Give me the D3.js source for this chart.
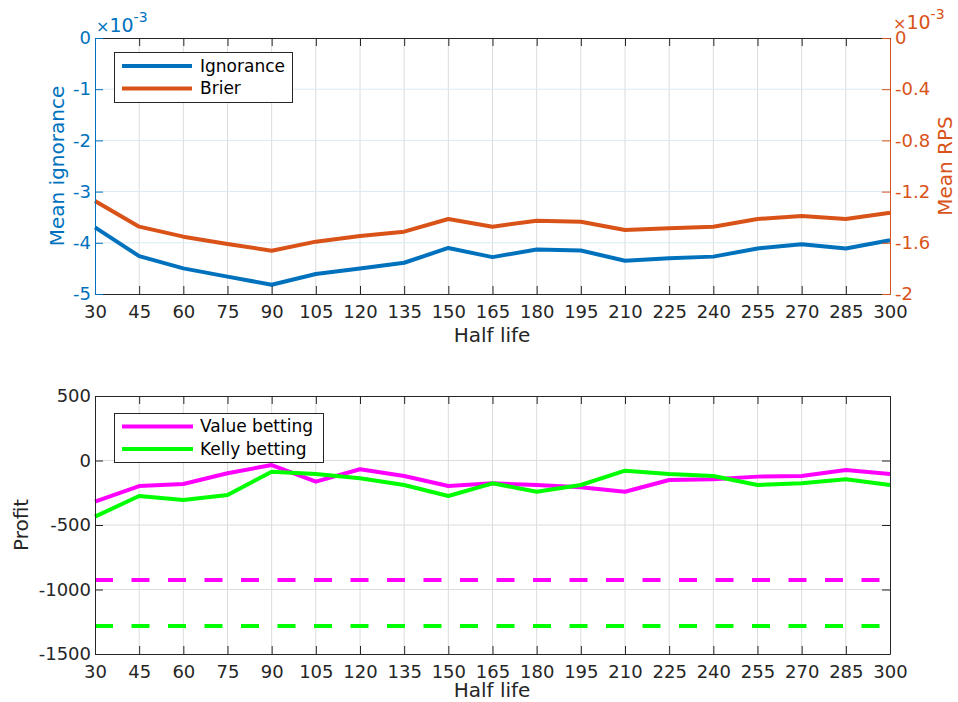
<!DOCTYPE html>
<html>
<head>
<meta charset="utf-8">
<script src="https://cdn.jsdelivr.net/npm/d3@7/dist/d3.min.js"></script>
<style>
  html, body { margin: 0; padding: 0; background: #fff; }
  svg { display: block; font-family: "DejaVu Sans", sans-serif; }
</style>
</head>
<body>
<svg id="chart" width="958" height="702"></svg>
<script>
// ---------------- DATA ----------------
const halfLife = [30, 45, 60, 75, 90, 105, 120, 135, 150, 165, 180, 195, 210, 225, 240, 255, 270, 285, 300];
const xTicks = halfLife;

// Mean ignorance (×10^-3)
const ignorance = [-3.70, -4.26, -4.50, -4.66, -4.82, -4.61, -4.50, -4.39, -4.10, -4.28, -4.13, -4.15, -4.35, -4.30, -4.27, -4.11, -4.03, -4.11, -3.95];
// Mean RPS / Brier (×10^-3)
const brier = [-1.273, -1.474, -1.552, -1.609, -1.662, -1.591, -1.547, -1.513, -1.414, -1.474, -1.427, -1.435, -1.500, -1.487, -1.474, -1.414, -1.391, -1.414, -1.365];

const leftTicks = [0, -1, -2, -3, -4, -5];
const rightTicks = [0, -0.4, -0.8, -1.2, -1.6, -2];

// Profit
const valueBetting = [-319, -198, -182, -99, -35, -164, -68, -120, -198, -177, -190, -208, -242, -151, -146, -125, -120, -74, -105];
const kellyBetting = [-435, -275, -306, -267, -87, -105, -138, -190, -275, -177, -242, -190, -79, -105, -120, -190, -177, -146, -190];
const valueBaseline = -926;
const kellyBaseline = -1283;
const profitTicks = [500, 0, -500, -1000, -1500];

const topLegend = ["Ignorance", "Brier"];
const bottomLegend = ["Value betting", "Kelly betting"];

// ---------------- STYLE ----------------
const C_BLUE = "#0072BD", C_ORANGE = "#D95319", C_MAG = "#FF00FF", C_GREEN = "#00FF00";
const C_AX = "#262626", C_GRID = "#dcdcdc", C_GRID_BLUE = "#d9eaf5";
const FS = 18, FL = 20, TICK = 8, LW = 4;
const fmt = d => String(+(+d).toFixed(1));

const svg = d3.select("#chart");

const x = d3.scaleLinear().domain([30, 300]).range([95, 890]);

// ---------- TOP PLOT ----------
const T = { top: 38, bottom: 294 };
const yL = d3.scaleLinear().domain([-5, 0]).range([T.bottom, T.top]);
const yR = d3.scaleLinear().domain([-2, 0]).range([T.bottom, T.top]);

const gTop = svg.append("g");
// grid
gTop.append("g").selectAll("line").data(xTicks.slice(1, -1)).join("line")
  .attr("x1", d => x(d)).attr("x2", d => x(d)).attr("y1", T.top).attr("y2", T.bottom)
  .attr("stroke", C_GRID).attr("stroke-width", 1);
gTop.append("g").selectAll("line").data(leftTicks.slice(1, -1)).join("line")
  .attr("x1", 95).attr("x2", 890).attr("y1", d => yL(d)).attr("y2", d => yL(d))
  .attr("stroke", C_GRID_BLUE).attr("stroke-width", 1);

// lines
const lineL = d3.line().x((d, i) => x(halfLife[i])).y(d => yL(d));
const lineR = d3.line().x((d, i) => x(halfLife[i])).y(d => yR(d));
gTop.append("path").attr("d", lineL(ignorance)).attr("fill", "none")
  .attr("stroke", C_BLUE).attr("stroke-width", LW).attr("stroke-linejoin", "round");
gTop.append("path").attr("d", lineR(brier)).attr("fill", "none")
  .attr("stroke", C_ORANGE).attr("stroke-width", LW).attr("stroke-linejoin", "round");

// axes
function styleAxis(g, color) {
  g.select(".domain").attr("stroke", color);
  g.selectAll(".tick line").attr("stroke", color);
  g.selectAll(".tick text").attr("fill", color).style("font-size", FS + "px")
    .style("font-family", "DejaVu Sans");
}
const axB1 = gTop.append("g").attr("transform", `translate(0,${T.bottom})`)
  .call(d3.axisBottom(x).tickValues(xTicks).tickSizeInner(-TICK).tickSizeOuter(0).tickPadding(8).tickFormat(fmt));
styleAxis(axB1, C_AX);
axB1.selectAll(".tick text").attr("dy", "0.9em");
const axT1 = gTop.append("g").attr("transform", `translate(0,${T.top})`)
  .call(d3.axisTop(x).tickValues(xTicks).tickSizeInner(-TICK).tickSizeOuter(0).tickFormat(""));
styleAxis(axT1, C_AX);
const axL1 = gTop.append("g").attr("transform", `translate(95,0)`)
  .call(d3.axisLeft(yL).tickValues(leftTicks).tickSizeInner(-TICK).tickSizeOuter(0).tickPadding(4).tickFormat(fmt));
styleAxis(axL1, C_BLUE);
const axR1 = gTop.append("g").attr("transform", `translate(890,0)`)
  .call(d3.axisRight(yR).tickValues(rightTicks).tickSizeInner(-TICK).tickSizeOuter(0).tickPadding(5).tickFormat(fmt));
styleAxis(axR1, C_ORANGE);

// exponent labels
const expL = svg.append("text").attr("x", 96).attr("y", 32).attr("fill", C_BLUE).style("font-size", "19px");
expL.append("tspan").style("font-size", "16px").text("×");
expL.append("tspan").text("10");
expL.append("tspan").attr("dy", -10).style("font-size", "14px").text("-3");
const expR = svg.append("text").attr("x", 893).attr("y", 29).attr("fill", C_ORANGE).style("font-size", "19px");
expR.append("tspan").style("font-size", "16px").text("×");
expR.append("tspan").text("10");
expR.append("tspan").attr("dy", -10).style("font-size", "14px").text("-3");

// axis titles
svg.append("text").attr("transform", `translate(64,166) rotate(-90)`).attr("text-anchor", "middle")
  .attr("fill", C_BLUE).style("font-size", FL + "px").text("Mean ignorance");
svg.append("text").attr("transform", `translate(952,166) rotate(-90)`).attr("text-anchor", "middle")
  .attr("fill", C_ORANGE).style("font-size", FL + "px").text("Mean RPS");
svg.append("text").attr("x", 492).attr("y", 342).attr("text-anchor", "middle")
  .attr("fill", C_AX).style("font-size", FL + "px").text("Half life");

// legend top
const lg1 = svg.append("g");
lg1.append("rect").attr("x", 114.5).attr("y", 52.5).attr("width", 178).attr("height", 50)
  .attr("fill", "#fff").attr("stroke", C_AX).attr("stroke-width", 1);
[C_BLUE, C_ORANGE].forEach((c, i) => {
  const yy = 66 + i * 22.5;
  lg1.append("line").attr("x1", 122).attr("x2", 192).attr("y1", yy).attr("y2", yy)
    .attr("stroke", c).attr("stroke-width", LW);
  lg1.append("text").attr("x", 200).attr("y", yy).attr("dy", "0.35em").attr("fill", "#000")
    .style("font-size", "17px").text(topLegend[i]);
});

// ---------- BOTTOM PLOT ----------
const B = { top: 396, bottom: 654 };
const yP = d3.scaleLinear().domain([-1500, 500]).range([B.bottom, B.top]);
const gBot = svg.append("g");
gBot.append("g").selectAll("line").data(xTicks.slice(1, -1)).join("line")
  .attr("x1", d => x(d)).attr("x2", d => x(d)).attr("y1", B.top).attr("y2", B.bottom)
  .attr("stroke", C_GRID).attr("stroke-width", 1);
gBot.append("g").selectAll("line").data(profitTicks.slice(1, -1)).join("line")
  .attr("x1", 95).attr("x2", 890).attr("y1", d => yP(d)).attr("y2", d => yP(d))
  .attr("stroke", C_GRID).attr("stroke-width", 1);

const lineP = d3.line().x((d, i) => x(halfLife[i])).y(d => yP(d));
gBot.append("path").attr("d", lineP(valueBetting)).attr("fill", "none")
  .attr("stroke", C_MAG).attr("stroke-width", LW).attr("stroke-linejoin", "round");
gBot.append("path").attr("d", lineP(kellyBetting)).attr("fill", "none")
  .attr("stroke", C_GREEN).attr("stroke-width", LW).attr("stroke-linejoin", "round");
[[valueBaseline, C_MAG], [kellyBaseline, C_GREEN]].forEach(([v, c]) => {
  gBot.append("line").attr("x1", x(30)).attr("x2", x(300)).attr("y1", yP(v)).attr("y2", yP(v))
    .attr("stroke", c).attr("stroke-width", LW).attr("stroke-dasharray", "18,18.5");
});

const axB2 = gBot.append("g").attr("transform", `translate(0,${B.bottom})`)
  .call(d3.axisBottom(x).tickValues(xTicks).tickSizeInner(-TICK).tickSizeOuter(0).tickPadding(8).tickFormat(fmt));
styleAxis(axB2, C_AX);
axB2.selectAll(".tick text").attr("dy", "0.9em");
const axT2 = gBot.append("g").attr("transform", `translate(0,${B.top})`)
  .call(d3.axisTop(x).tickValues(xTicks).tickSizeInner(-TICK).tickSizeOuter(0).tickFormat(""));
styleAxis(axT2, C_AX);
const axL2 = gBot.append("g").attr("transform", `translate(95,0)`)
  .call(d3.axisLeft(yP).tickValues(profitTicks).tickSizeInner(-TICK).tickSizeOuter(0).tickPadding(4).tickFormat(fmt));
styleAxis(axL2, C_AX);
const axR2 = gBot.append("g").attr("transform", `translate(890,0)`)
  .call(d3.axisRight(yP).tickValues(profitTicks).tickSizeInner(-TICK).tickSizeOuter(0).tickFormat(""));
styleAxis(axR2, C_AX);

svg.append("text").attr("transform", `translate(28,525) rotate(-90)`).attr("text-anchor", "middle")
  .attr("fill", C_AX).style("font-size", FL + "px").text("Profit");
svg.append("text").attr("x", 492).attr("y", 697).attr("text-anchor", "middle")
  .attr("fill", C_AX).style("font-size", FL + "px").text("Half life");

const lg2 = svg.append("g");
lg2.append("rect").attr("x", 114.5).attr("y", 413.5).attr("width", 209).attr("height", 49)
  .attr("fill", "#fff").attr("stroke", C_AX).attr("stroke-width", 1);
[C_MAG, C_GREEN].forEach((c, i) => {
  const yy = 426.5 + i * 22.5;
  lg2.append("line").attr("x1", 122).attr("x2", 193).attr("y1", yy).attr("y2", yy)
    .attr("stroke", c).attr("stroke-width", LW);
  lg2.append("text").attr("x", 200).attr("y", yy).attr("dy", "0.35em").attr("fill", "#000")
    .style("font-size", "17px").text(bottomLegend[i]);
});
</script>
</body>
</html>
